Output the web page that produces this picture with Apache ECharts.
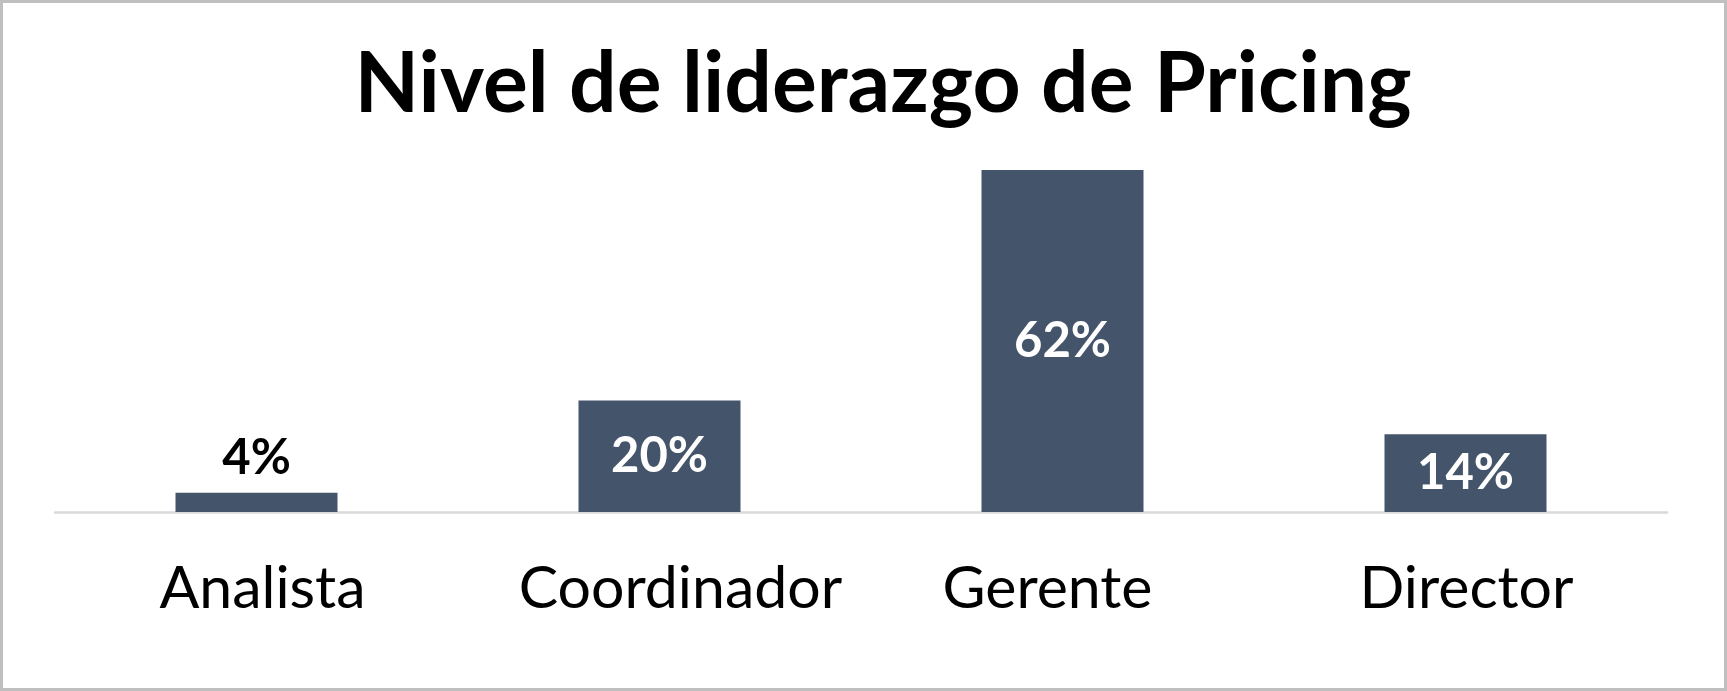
<!DOCTYPE html>
<html>
<head>
<meta charset="utf-8">
<script src="https://cdn.jsdelivr.net/npm/echarts@6/dist/echarts.min.js"></script>
<style>
  html, body { margin: 0; padding: 0; background: #ffffff; }
  #chart { width: 1727px; height: 691px; }
</style>
</head>
<body>
<div id="chart"></div>
<script>
const titleText = 'Nivel de liderazgo de Pricing';
const categories = ['Analista', 'Coordinador', 'Gerente', 'Director'];
const values = [3.5, 20.2, 62, 14.1];

// horizontal nudges of category labels (px), style only
const labelShift = [6, 21, -15, 1];

const chart = echarts.init(document.getElementById('chart'), null, { renderer: 'canvas' });

const catData = categories.map((c, i) => {
  const s = labelShift[i];
  return {
    value: c,
    textStyle: { padding: s >= 0 ? [0, 0, 0, 2 * s] : [0, -2 * s, 0, 0] }
  };
});

const barData = values.map((v, i) => {
  const inside = v >= 8;
  return {
    value: v,
    label: inside
      ? { position: 'inside', color: '#ffffff' }
      : { position: 'top', color: '#000000', distance: 10 }
  };
});

chart.setOption({
  animation: false,
  backgroundColor: '#ffffff',
  title: {
    text: titleText,
    left: 878,
    top: 38,
    textAlign: 'center',
    textStyle: {
      fontFamily: 'Lato',
      fontWeight: 'bold',
      fontSize: 84,
      color: '#000000'
    }
  },
  grid: { left: 55, right: 60, top: 126, bottom: 179, containLabel: false },
  xAxis: {
    type: 'category',
    data: catData,
    axisLine: { show: true, lineStyle: { color: '#d9d9d9', width: 2.5 } },
    axisTick: { show: false },
    axisLabel: {
      fontFamily: 'Lato',
      fontSize: 59,
      color: '#000000',
      margin: 47,
      interval: 0
    }
  },
  yAxis: {
    type: 'value',
    min: 0,
    max: 70,
    show: false,
    splitLine: { show: false }
  },
  series: [{
    type: 'bar',
    data: barData,
    barWidth: 162,
    itemStyle: { color: '#44546a' },
    label: {
      show: true,
      fontFamily: 'Lato',
      fontWeight: 'bold',
      fontSize: 49,
      formatter: p => Math.round(p.value) + '%'
    }
  }],
  graphic: [{
    type: 'rect',
    shape: { x: 1.5, y: 1.5, width: 1724, height: 688 },
    style: { fill: 'none', stroke: '#bfbfbf', lineWidth: 3 },
    silent: true,
    z: 100
  }]
});
</script>
</body>
</html>
